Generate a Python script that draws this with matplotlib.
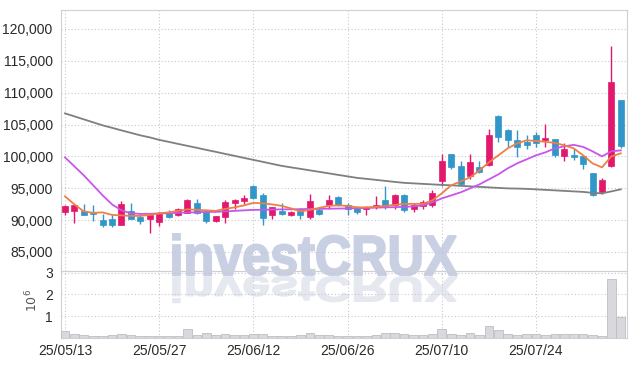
import numpy as np
import matplotlib
matplotlib.use("Agg")
import matplotlib.pyplot as plt
from matplotlib.textpath import TextPath
from matplotlib.patches import PathPatch
from matplotlib.font_manager import FontProperties
import matplotlib.transforms as mtransforms

# ---------------- data ----------------
tick_labels = ['25/05/13', '25/05/27', '25/06/12', '25/06/26', '25/07/10', '25/07/24']

opens = [91200, 91400, 91360, 91050, 89950, 90100, 89300, 91360, 90470, 90100,
         89700, 91100, 90750, 91150, 92600, 91280, 89800, 90470, 92720, 92980,
         95300, 93880, 90840, 91410, 90850, 91620, 90470, 91520, 92300, 93600,
         92400, 92050, 91800, 92250, 93090, 92400, 94000, 91680, 92180, 92300,
         96070, 100310, 98430, 96860, 98320, 98590, 106280, 104080, 102510, 102250,
         103300, 102620, 102670, 100050, 100160, 100000, 97440, 94400, 98480, 108800]
highs = [92300, 92400, 92460, 92300, 90900, 90850, 92970, 92670, 91000, 90900,
         91200, 91500, 91950, 93350, 93350, 91350, 90700, 93190, 93350, 93880,
         95450, 94230, 92100, 92670, 91400, 91900, 94140, 91880, 93880, 93700,
         92700, 92200, 92200, 93750, 95330, 94140, 94100, 92600, 93200, 94700,
         100420, 100310, 99210, 100420, 99260, 104350, 106440, 104240, 104190, 103300,
         103820, 105130, 102670, 102090, 101370, 100000, 97440, 96650, 117270, 108800]
lows = [90750, 89600, 90800, 89800, 88900, 88900, 89300, 90100, 89430, 87950,
        89050, 90400, 90700, 91100, 91000, 89520, 89700, 89520, 91800, 92570,
        93300, 89160, 90220, 90730, 90600, 90100, 90100, 90800, 91800, 92200,
        90750, 90890, 90850, 91800, 91800, 91800, 91260, 91200, 91700, 92100,
        95290, 98060, 95450, 96500, 97450, 98430, 102250, 101460, 99890, 101200,
        101460, 101460, 99890, 99260, 99480, 98060, 93770, 94030, 98300, 101360]
closes = [92150, 92300, 90810, 90900, 89300, 89300, 92550, 90220, 89840, 90730,
          91000, 90470, 91670, 93090, 91050, 89800, 90620, 92830, 93190, 93510,
          93460, 90310, 92040, 91000, 91250, 90730, 92980, 90890, 93090, 92300,
          91700, 91260, 92100, 92400, 92200, 93880, 91520, 92410, 92800, 94200,
          99210, 98320, 95710, 99100, 97540, 103300, 103030, 102510, 101460, 101830,
          102150, 102880, 100160, 101100, 99890, 98850, 93880, 96230, 111670, 101570]

# volume, in units of 10^6 shares
volume = [0.32, 0.18, 0.11, 0.09, 0.06, 0.11, 0.18, 0.11, 0.06, 0.09,
          0.09, 0.09, 0.09, 0.42, 0.14, 0.23, 0.14, 0.18, 0.11, 0.11,
          0.18, 0.18, 0.09, 0.09, 0.09, 0.11, 0.22, 0.14, 0.11, 0.09,
          0.06, 0.09, 0.09, 0.11, 0.20, 0.20, 0.18, 0.11, 0.11, 0.15,
          0.42, 0.18, 0.14, 0.20, 0.11, 0.52, 0.37, 0.15, 0.11, 0.15,
          0.15, 0.11, 0.15, 0.15, 0.15, 0.15, 0.11, 0.06, 2.72, 0.95]

# moving-average lines (thousand won)
ma_short = [93.72, 92.46, 91.36, 91.13, 91.20, 90.81, 90.73, 90.65, 90.65, 90.81,
            91.05, 91.20, 91.44, 91.68, 91.60, 91.52, 91.44, 91.75, 91.99, 92.30,
            92.70, 92.62, 92.46, 92.23, 91.83, 91.36, 91.60, 91.91, 92.23, 92.30,
            92.23, 91.99, 91.99, 92.07, 92.23, 92.38, 92.54, 92.54, 92.54, 93.09,
            94.19, 95.45, 96.07, 96.70, 97.80, 99.06, 100.16, 101.26, 102.04, 102.51,
            102.43, 102.28, 102.12, 101.73, 101.26, 100.16, 98.90, 98.27, 100.00, 100.47]
ma_mid = [99.84, 98.43, 97.02, 95.45, 93.87, 92.46, 91.52, 91.05, 90.97, 90.97,
          91.05, 91.05, 91.13, 91.20, 91.20, 91.28, 91.28, 91.36, 91.44, 91.52,
          91.60, 91.60, 91.65, 91.68, 91.68, 91.71, 91.75, 91.75, 91.79, 91.80,
          91.83, 91.86, 91.91, 91.94, 91.99, 92.02, 92.07, 92.15, 92.30, 92.78,
          93.40, 93.87, 94.35, 94.97, 95.60, 96.39, 97.17, 98.12, 98.90, 99.53,
          100.16, 100.63, 101.26, 101.57, 101.81, 101.49, 100.79, 100.00, 100.79, 100.94]
ma_long = [106.75, 106.28, 105.81, 105.34, 104.87, 104.48, 104.08, 103.69, 103.30, 102.98,
           102.59, 102.28, 101.96, 101.65, 101.34, 101.02, 100.71, 100.39, 100.08, 99.76,
           99.45, 99.14, 98.82, 98.51, 98.27, 98.04, 97.80, 97.57, 97.33, 97.09,
           96.86, 96.62, 96.47, 96.31, 96.15, 95.99, 95.84, 95.76, 95.68, 95.60,
           95.52, 95.45, 95.37, 95.29, 95.21, 95.13, 95.05, 94.97, 94.94, 94.90,
           94.82, 94.74, 94.66, 94.58, 94.50, 94.42, 94.27, 94.19, 94.50, 94.82]

price_ticks = [85000, 90000, 95000, 100000, 105000, 110000, 115000, 120000]
vol_ticks = [1, 2, 3]

# ---------------- styling ----------------
UP = '#e2186c'
DOWN = '#3196c8'
GRID = '#c4c8d4'
SPINE = '#cfcfd4'
TXT = '#2a2a2a'
FONT = ['Liberation Sans Narrow', 'Liberation Sans', 'DejaVu Sans']
plt.rcParams['font.family'] = FONT

W, H = 634, 366
fig = plt.figure(figsize=(W / 100, H / 100), dpi=100)
fig.patch.set_facecolor('white')

left, right = 61, 627
main_top, split, vol_bot = 10, 271, 338
ax = fig.add_axes([left / W, 1 - split / H, (right - left) / W, (split - main_top) / H])
axv = fig.add_axes([left / W, 1 - vol_bot / H, (right - left) / W, (vol_bot - split) / H], sharex=ax)
for a in (ax, axv):
    a.set_facecolor('none')
    for s in a.spines.values():
        s.set_color(SPINE)
        s.set_linewidth(0.8)

n = len(closes)
x = np.arange(n)
o = np.array(opens, float); c = np.array(closes, float)
h = np.array(highs, float); l = np.array(lows, float)
up = c >= o
cols = np.where(up, UP, DOWN)

# wicks + bodies
ax.vlines(x, l, h, colors=cols, linewidth=1.0, zorder=3)
body_bottom = np.minimum(o, c)
body_h = np.maximum(np.abs(c - o), 120)
ax.bar(x, body_h, bottom=body_bottom, width=0.64, color=cols, edgecolor=cols,
       linewidth=0.5, zorder=4)

# moving averages
ax.plot(x, np.array(ma_long) * 1000, color='#7f7f7f', lw=1.3, zorder=5)
ax.plot(x, np.array(ma_mid) * 1000, color='#c956ea', lw=1.3, zorder=5)
ax.plot(x, np.array(ma_short) * 1000, color='#ef7f45', lw=1.3, zorder=5)

ax.set_xlim(-0.42, 59.66)
ax.set_ylim(82000, 122980)
ax.set_yticks(price_ticks)
ax.set_yticklabels([f'{v:,}' for v in price_ticks])
ax.tick_params(axis='y', length=0, pad=6, labelsize=10, labelcolor=TXT)
ax.tick_params(axis='x', length=0, labelbottom=False)
ax.set_xticks(x[::10])
ax.grid(True, color=GRID, linestyle=(0, (1, 2)), linewidth=0.8, zorder=0)
ax.set_axisbelow(True)

# volume
axv.bar(x, volume, width=0.92, color='#d8d8dd', edgecolor='#bdbdc4', linewidth=0.6, zorder=3)
axv.set_ylim(-0.02, 3.09)
axv.set_yticks(vol_ticks)
axv.set_yticklabels([str(v) for v in vol_ticks])
axv.tick_params(axis='y', length=0, pad=6, labelsize=10, labelcolor=TXT)
axv.set_xticks(x[::10])
axv.set_xticklabels(tick_labels)
axv.tick_params(axis='x', length=0, pad=4, labelsize=10, labelcolor=TXT)
axv.grid(True, color=GRID, linestyle=(0, (1, 2)), linewidth=0.8, zorder=0)
axv.set_axisbelow(True)
fig.text(32 / W, 1 - 300 / H, r'$10^6$', rotation=90, ha='center', va='center',
         fontsize=9, color='#555555')

# watermark with reflection (behind the transparent axes)
fp = FontProperties(family=['Liberation Sans', 'DejaVu Sans'], weight='bold')
tp = TextPath((0, 0), 'investCRUX', size=50, prop=fp)
bb = tp.get_extents()
x0, x1, top_y, base_y = 173, 457, 234, 275
sx = (x1 - x0) / bb.width
sy = (base_y - top_y) / bb.y1
to_fig = mtransforms.Affine2D().scale(1 / W, 1 / H) + fig.transFigure
t_main = mtransforms.Affine2D().translate(-bb.x0, 0).scale(sx, sy).translate(x0, H - base_y) + to_fig
fig.patches.append(PathPatch(tp, transform=t_main, facecolor='#c9d0e3', edgecolor='#c9d0e3',
                             linewidth=1.4, zorder=-2))
t_refl = mtransforms.Affine2D().translate(-bb.x0, 0).scale(sx, -sy * 0.62).translate(x0, H - base_y - 2) + to_fig
fig.patches.append(PathPatch(tp, transform=t_refl, facecolor='#e6e8ef', edgecolor='#e6e8ef',
                             linewidth=1.2, zorder=-2))

fig.savefig('out.png', dpi=100, facecolor='white')
